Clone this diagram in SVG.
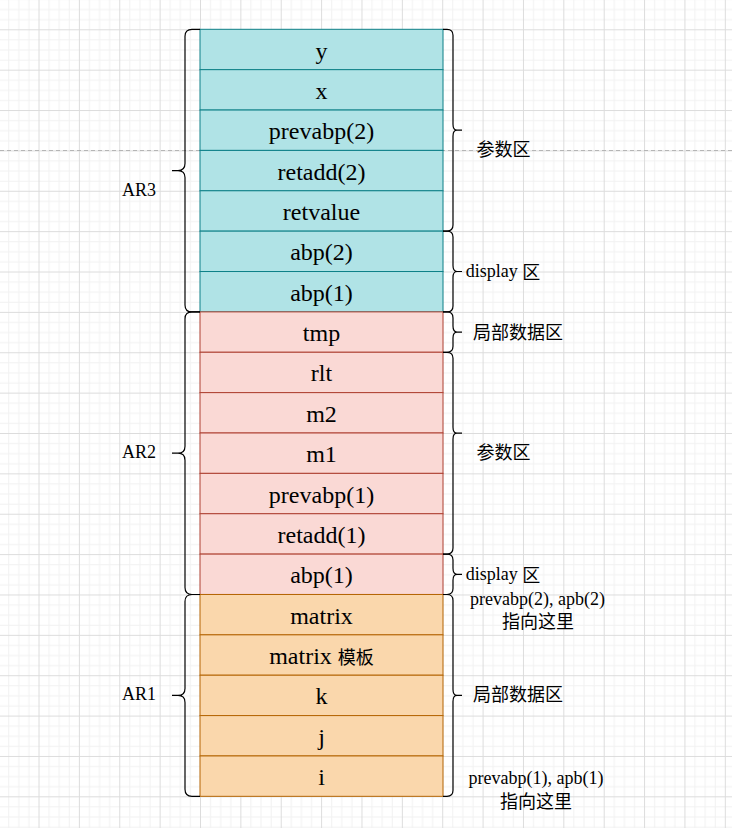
<svg xmlns="http://www.w3.org/2000/svg" width="732" height="828" viewBox="0 0 732 828">
<defs>
<pattern id="grid" x="200" y="29.3" width="40.37" height="40.37" patternUnits="userSpaceOnUse">
<rect x="10.09" y="0" width="1" height="40.37" fill="#f1f1f1"/>
<rect x="20.18" y="0" width="1" height="40.37" fill="#f1f1f1"/>
<rect x="30.28" y="0" width="1" height="40.37" fill="#f1f1f1"/>
<rect x="0" y="10.09" width="40.37" height="1" fill="#f1f1f1"/>
<rect x="0" y="20.18" width="40.37" height="1" fill="#f1f1f1"/>
<rect x="0" y="30.28" width="40.37" height="1" fill="#f1f1f1"/>
<rect x="0" y="0" width="1" height="40.37" fill="#dcdcdc"/>
<rect x="0" y="0" width="40.37" height="1" fill="#dcdcdc"/>
</pattern>
<style>
.t{fill:#b0e3e6;stroke:#0e8088;stroke-width:1}
.r{fill:#fad9d5;stroke:#ae4132;stroke-width:1}
.o{fill:#fad7ac;stroke:#b46504;stroke-width:1}
.lbl{font-family:"Liberation Serif","Noto Sans CJK SC",serif;font-size:24px;fill:#000;text-anchor:middle;dominant-baseline:central}
.side{font-family:"Liberation Serif","Noto Sans CJK SC",serif;font-size:18px;fill:#000;text-anchor:middle;dominant-baseline:central}
.cjk{font-family:"Noto Sans CJK SC",sans-serif;font-size:18px;fill:#000;text-anchor:middle;dominant-baseline:central}
.br{fill:none;stroke:#000;stroke-width:1.2}
</style>
</defs>
<rect width="732" height="828" fill="#ffffff"/>
<rect width="732" height="828" fill="url(#grid)"/>
<line x1="0" y1="150.5" x2="732" y2="150.5" stroke="#b5b5b5" stroke-width="1" stroke-dasharray="4 3"/>

<g id="AR3">
<g id="n-y"><rect class="t" x="200" y="29.3" width="243" height="40.37"/><text class="lbl" x="321.5" y="50.5">y</text></g>
<g id="n-x"><rect class="t" x="200" y="69.67" width="243" height="40.37"/><text class="lbl" x="321.5" y="90.9">x</text></g>
<g id="n-prevabp2"><rect class="t" x="200" y="110.04" width="243" height="40.37"/><text class="lbl" x="321.5" y="131.2">prevabp(2)</text></g>
<g id="n-retadd2"><rect class="t" x="200" y="150.41" width="243" height="40.37"/><text class="lbl" x="321.5" y="171.6">retadd(2)</text></g>
<g id="n-retvalue"><rect class="t" x="200" y="190.78" width="243" height="40.37"/><text class="lbl" x="321.5" y="212">retvalue</text></g>
<g id="n-abp2"><rect class="t" x="200" y="231.15" width="243" height="40.37"/><text class="lbl" x="321.5" y="252.3">abp(2)</text></g>
<g id="n-abp1a"><rect class="t" x="200" y="271.52" width="243" height="40.37"/><text class="lbl" x="321.5" y="292.7">abp(1)</text></g>
</g>

<g id="AR2">
<g id="n-tmp"><rect class="r" x="200" y="311.89" width="243" height="40.37"/><text class="lbl" x="321.5" y="333.1">tmp</text></g>
<g id="n-rlt"><rect class="r" x="200" y="352.26" width="243" height="40.37"/><text class="lbl" x="321.5" y="373.4">rlt</text></g>
<g id="n-m2"><rect class="r" x="200" y="392.63" width="243" height="40.37"/><text class="lbl" x="321.5" y="413.8">m2</text></g>
<g id="n-m1"><rect class="r" x="200" y="433" width="243" height="40.37"/><text class="lbl" x="321.5" y="454.2">m1</text></g>
<g id="n-prevabp1"><rect class="r" x="200" y="473.37" width="243" height="40.37"/><text class="lbl" x="321.5" y="494.6">prevabp(1)</text></g>
<g id="n-retadd1"><rect class="r" x="200" y="513.74" width="243" height="40.37"/><text class="lbl" x="321.5" y="534.9">retadd(1)</text></g>
<g id="n-abp1b"><rect class="r" x="200" y="554.11" width="243" height="40.37"/><text class="lbl" x="321.5" y="575.3">abp(1)</text></g>
</g>

<g id="AR1">
<g id="n-matrix"><rect class="o" x="200" y="594.48" width="243" height="40.37"/><text class="lbl" x="321.5" y="615.7">matrix</text></g>
<g id="n-matrixtpl"><rect class="o" x="200" y="634.85" width="243" height="40.37"/><text class="lbl" x="321.5" y="656">matrix <tspan style="font-family:'Noto Sans CJK SC',sans-serif;font-size:18px">模板</tspan></text></g>
<g id="n-k"><rect class="o" x="200" y="675.22" width="243" height="40.37"/><text class="lbl" x="321.5" y="696.4">k</text></g>
<g id="n-j"><rect class="o" x="200" y="715.59" width="243" height="40.37"/><text class="lbl" x="321.5" y="736.8">j</text></g>
<g id="n-i"><rect class="o" x="200" y="755.96" width="243" height="40.37"/><text class="lbl" x="321.5" y="777.1">i</text></g>
</g>

<g id="connectors">
<path class="br" d="M200,29.3 H192 Q185,29.3 185,36.3 V163.6 Q185,170.6 178,170.6 H172 H178 Q185,170.6 185,177.6 V304.9 Q185,311.9 192,311.9 H200"/>
<path class="br" d="M200,311.9 H192 Q185,311.9 185,318.9 V446.2 Q185,453.2 178,453.2 H172 H178 Q185,453.2 185,460.2 V587.5 Q185,594.5 192,594.5 H200"/>
<path class="br" d="M200,594.5 H192 Q185,594.5 185,601.5 V688.4 Q185,695.4 178,695.4 H172 H178 Q185,695.4 185,702.4 V789.3 Q185,796.3 192,796.3 H200"/>
<path class="br" d="M443,29.3 H447 Q453,29.3 453,35.3 V124.2 Q453,130.2 457,130.2 H462 H457 Q453,130.2 453,136.2 V225.1 Q453,231.1 447,231.1 H443"/>
<path class="br" d="M443,231.1 H447 Q453,231.1 453,237.1 V265.5 Q453,271.5 457,271.5 H462 H457 Q453,271.5 453,277.5 V305.9 Q453,311.9 447,311.9 H443"/>
<path class="br" d="M443,311.9 H447 Q453,311.9 453,317.9 V326.1 Q453,332.1 457,332.1 H462 H457 Q453,332.1 453,338.1 V346.3 Q453,352.3 447,352.3 H443"/>
<path class="br" d="M443,352.3 H447 Q453,352.3 453,358.3 V427.2 Q453,433.2 457,433.2 H462 H457 Q453,433.2 453,439.2 V548.1 Q453,554.1 447,554.1 H443"/>
<path class="br" d="M443,554.1 H447 Q453,554.1 453,560.1 V568.3 Q453,574.3 457,574.3 H462 H457 Q453,574.3 453,580.3 V588.5 Q453,594.5 447,594.5 H443"/>
<path class="br" d="M443,594.5 H447 Q453,594.5 453,600.5 V689.4 Q453,695.4 457,695.4 H462 H457 Q453,695.4 453,701.4 V790.3 Q453,796.3 447,796.3 H443"/>
</g>

<g id="labels">
<text class="side" x="139" y="190">AR3</text>
<text class="side" x="139" y="452">AR2</text>
<text class="side" x="139" y="694">AR1</text>
<text class="cjk" x="503.5" y="148">参数区</text>
<text class="side" x="503" y="271">display <tspan style="font-family:'Noto Sans CJK SC',sans-serif">区</tspan></text>
<text class="cjk" x="518" y="331">局部数据区</text>
<text class="cjk" x="503.5" y="451">参数区</text>
<text class="side" x="503" y="574">display <tspan style="font-family:'Noto Sans CJK SC',sans-serif">区</tspan></text>
<text class="side" x="537.5" y="599">prevabp(2), apb(2)</text>
<text class="cjk" x="538" y="620">指向这里</text>
<text class="cjk" x="518" y="693">局部数据区</text>
<text class="side" x="536" y="778">prevabp(1), apb(1)</text>
<text class="cjk" x="536" y="800">指向这里</text>
</g>
</svg>
